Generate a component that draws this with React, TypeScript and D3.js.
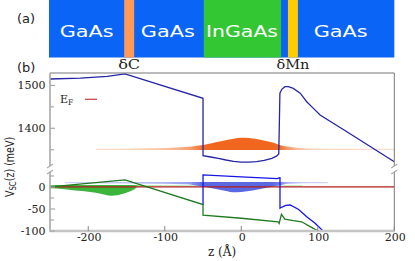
import React from "react";
import * as d3 from "d3";

// ---------- DATA ----------
// layer stripes (z in Å)
const stripeZ0 = [-153, -49, 61];
const stripeZ1 = [-140, 52, 74];
const layerLabels = ["GaAs", "GaAs", "InGaAs", "GaAs"];
const layerLabelZ = [-202, -96, 1, 130];

// conduction band (upper panel, meV)
const cbZ = [-250, -210, -175, -152, -50, -50, -40, -30, -20, -10, 0, 10, 20, 30, 40, 46, 49, 50.5, 53, 57, 61.5, 68, 77, 85.5, 94, 103, 138, 200];
const cbV = [1515, 1517, 1521, 1527, 1470, 1336, 1333, 1330, 1326, 1323, 1321, 1321, 1322, 1325, 1330, 1335, 1340, 1482, 1491, 1497, 1497, 1493, 1482, 1462, 1447, 1431, 1392, 1322];

// light-hole band (green, lower panel)
const lhZ = [-250, -152, -50, -50, 0, 48, 49.5, 52.5, 57, 68, 79, 90, 100.5, 108];
const lhV = [0, 16, -40, -64, -71, -79, -83, -62, -73, -76.5, -79, -90, -100, -106];

// heavy-hole band (blue, lower panel)
const hhZ = [-50, -50, 0, 47, 49.5, 50.6, 50.6, 54, 58, 64, 75, 85.5, 96.5, 107.5, 112];
const hhV = [-41, 27.5, 23, 19, 20.5, 21, -48, -45, -42, -41, -51, -67.5, -82.5, -101, -108];

// electron density (orange), normalized
const eDenZ = [-190, -150, -120, -100, -80, -65, -55, -50, -40, -32, -25, -10, 0, 10, 25, 40, 50, 60, 70, 77, 85, 100, 130, 160, 200];
const eDenD = [0.02, 0.04, 0.08, 0.11, 0.17, 0.24, 0.33, 0.38, 0.5, 0.62, 0.72, 0.92, 1.0, 0.97, 0.83, 0.6, 0.38, 0.24, 0.15, 0.11, 0.07, 0.05, 0.03, 0.02, 0.01];
const eBase = 1351;
const eAmp = 27;

// heavy-hole density (blue)
const hDenZ = [-230, -200, -150, -100, -75, -67, -60, -50, -40, -30, -20, -12, 0, 10, 20, 30, 40, 50, 60, 75, 90, 113];
const hDenD = [0.02, 0.04, 0.07, 0.12, 0.18, 0.2, 0.3, 0.42, 0.55, 0.72, 0.88, 1.0, 0.97, 0.88, 0.74, 0.58, 0.42, 0.31, 0.13, 0.06, 0.03, 0.01];
const hBase = 10;
const hAmp = 22;

// light-hole density (green)
const lDenZ = [-250, -235, -220, -205, -190, -178, -170, -162, -152, -145, -139, -135, -125, -100, -50, 0, 50, 80];
const lDenD = [0.25, 0.33, 0.45, 0.55, 0.72, 0.9, 1.0, 0.95, 0.76, 0.55, 0.33, 0.12, 0.05, 0.03, 0.02, 0.015, 0.01, 0.005];
const lBase = 3;
const lAmp = 22.7;

const xTicks = [-200, -100, 0, 100, 200];
const yTopTicks = [1500, 1400];
const yTopMinor = [1450, 1350];
const yBotTicks = [0, -50, -100];
const yBotMinor = [25, -25, -75];

// ---------- LAYOUT ----------
const W = 415, H = 261;
const xL = 50, xR = 394.3;
const topY0 = 73, topY1 = 166;
const botY0 = 172, botY1 = 231;

const x = d3.scaleLinear().domain([-250, 200]).range([xL, xR]);
const yTop = d3.scaleLinear().domain([1312, 1529]).range([topY1, topY0]);
const yBot = d3.scaleLinear().domain([-100, 34]).range([botY1, botY0]);

function zip(zs: number[], vs: number[]): [number, number][] {
  return zs.map((z, i) => [z, vs[i]]);
}

function Density({ id, zs, ds, base, amp, dir, yScale, tail, peak, sat }: any) {
  const pts = zip(zs, ds);
  const area = d3
    .area<[number, number]>()
    .x((p) => x(p[0]))
    .y0(() => yScale(base))
    .y1((p) => yScale(base + dir * amp * p[1]))
    .curve(d3.curveMonotoneX);
  const col = d3.interpolateRgb(tail, peak);
  const x0 = x(zs[0]);
  const x1 = x(zs[zs.length - 1]);
  return (
    <g>
      <defs>
        <linearGradient id={id} gradientUnits="userSpaceOnUse" x1={x0} x2={x1} y1={0} y2={0}>
          {zs.map((z, i) => (
            <stop key={i} offset={(x(z) - x0) / (x1 - x0)} stopColor={col(Math.min(1, ds[i] / sat))} />
          ))}
        </linearGradient>
      </defs>
      <path d={area(pts) || ""} fill={`url(#${id})`} />
      <line x1={x0} x2={x1} y1={yScale(base)} y2={yScale(base)} stroke={`url(#${id})`} strokeWidth={1.3} />
    </g>
  );
}

export default function App() {
  const lineTop = d3.line<[number, number]>().x((p) => x(p[0])).y((p) => yTop(p[1]));
  const lineBot = d3.line<[number, number]>().x((p) => x(p[0])).y((p) => yBot(p[1]));
  const axisGray = "#a8a8a8";
  const frameGray = "#777";
  const serif = "'DejaVu Serif', serif";
  const sans = "'DejaVu Sans', sans-serif";

  const brk = (cx: number) => (
    <g stroke={axisGray} strokeWidth={1.2}>
      <line x1={cx - 3} x2={cx + 3} y1={topY1 + 2} y2={topY1 - 2} />
      <line x1={cx - 3} x2={cx + 3} y1={botY0 + 2} y2={botY0 - 2} />
    </g>
  );

  return (
    <svg width={W} height={H} style={{ position: "absolute", left: 0, top: 0, background: "#fff" }}>
      <defs>
        <clipPath id="clipTop">
          <rect x={xL} y={topY0} width={xR - xL} height={topY1 - topY0} />
        </clipPath>
        <clipPath id="clipBot">
          <rect x={xL} y={botY0} width={xR - xL} height={botY1 - botY0} />
        </clipPath>
      </defs>

      {/* (a) layer structure */}
      <rect x={x(-250) - 1} y={0} width={x(200) - x(-250) + 1} height={57.5} fill="#0a64f5" />
      {stripeZ0.map((z0, i) => (
        <rect key={i} x={x(z0)} y={0} width={x(stripeZ1[i]) - x(z0)} height={57.5} fill={["#ff9955", "#33c833", "#ffcc00"][i]} />
      ))}
      {layerLabels.map((t, i) => (
        <text key={i} x={x(layerLabelZ[i])} y={36.5} textAnchor="middle" fill="#fff" fontFamily={sans} fontSize={15}
          textLength={t.length > 4 ? 72 : 54} lengthAdjust="spacingAndGlyphs">{t}</text>
      ))}
      <text x={17} y={23} fontFamily={sans} fontSize={13} fill="#222">(a)</text>
      <text x={x(-146.5)} y={69} textAnchor="middle" fontFamily={serif} fontSize={12} fill="#222" textLength={22} lengthAdjust="spacingAndGlyphs">δC</text>
      <text x={x(67.5)} y={69} textAnchor="middle" fontFamily={serif} fontSize={12} fill="#222" textLength={33} lengthAdjust="spacingAndGlyphs">δMn</text>
      <text x={17} y={72} fontFamily={sans} fontSize={13} fill="#222">(b)</text>

      {/* upper panel */}
      <g clipPath="url(#clipTop)">
        <Density id="gE" zs={eDenZ} ds={eDenD} base={eBase} amp={eAmp} dir={1} yScale={yTop} tail="#fde3d3" peak="#f0661e" sat={0.4} />
        <path d={lineTop(zip(cbZ, cbV)) || ""} fill="none" stroke="#2525a5" strokeWidth={1.3} />
      </g>

      {/* lower panel */}
      <g clipPath="url(#clipBot)">
        <Density id="gL" zs={lDenZ} ds={lDenD} base={lBase} amp={lAmp} dir={-1} yScale={yBot} tail="#cdeec6" peak="#3cb43c" sat={0.35} />
        <Density id="gH" zs={hDenZ} ds={hDenD} base={hBase} amp={hAmp} dir={-1} yScale={yBot} tail="#d2d6f8" peak="#5a68e2" sat={0.4} />
        <line x1={x(-250)} x2={x(200)} y1={yBot(0)} y2={yBot(0)} stroke="#b01c1c" strokeWidth={1.2} />
        <path d={lineBot(zip(hhZ, hhV)) || ""} fill="none" stroke="#1515e8" strokeWidth={1.3} />
        <path d={lineBot(zip(lhZ, lhV)) || ""} fill="none" stroke="#1f7a1f" strokeWidth={1.3} />
      </g>

      {/* frame */}
      <line x1={xL} x2={xR} y1={topY0} y2={topY0} stroke={frameGray} strokeWidth={1} />
      <line x1={xR} x2={xR} y1={topY0} y2={topY1} stroke={frameGray} strokeWidth={1} />
      <line x1={xR} x2={xR} y1={botY0} y2={botY1} stroke={frameGray} strokeWidth={1} />
      <line x1={xL} x2={xL} y1={topY0} y2={topY1} stroke={axisGray} strokeWidth={1.6} />
      <line x1={xL} x2={xL} y1={botY0} y2={botY1} stroke={axisGray} strokeWidth={1.6} />
      <line x1={xL - 1} x2={xR + 0.5} y1={botY1} y2={botY1} stroke="#c4c4c4" strokeWidth={2.5} />
      {brk(xL)}
      {brk(xR)}

      {/* y ticks */}
      {yTopTicks.map((v) => (
        <g key={v}>
          <line x1={xL} x2={xL + 5} y1={yTop(v)} y2={yTop(v)} stroke={axisGray} strokeWidth={1.2} />
          <text x={45.5} y={yTop(v) + 4} textAnchor="end" fontFamily={serif} fontSize={11} fill="#222">{v}</text>
        </g>
      ))}
      {yTopMinor.map((v) => (
        <line key={v} x1={xL} x2={xL + 4} y1={yTop(v)} y2={yTop(v)} stroke={axisGray} strokeWidth={1.2} />
      ))}
      {yBotTicks.map((v) => (
        <g key={v}>
          <line x1={xL} x2={xL + 5} y1={yBot(v)} y2={yBot(v)} stroke={axisGray} strokeWidth={1.2} />
          <text x={45.5} y={yBot(v) + 4} textAnchor="end" fontFamily={serif} fontSize={11} fill="#222">{v}</text>
        </g>
      ))}
      {yBotMinor.map((v) => (
        <line key={v} x1={xL} x2={xL + 4} y1={yBot(v)} y2={yBot(v)} stroke={axisGray} strokeWidth={1.2} />
      ))}

      {/* x ticks */}
      {xTicks.map((v) => (
        <g key={v}>
          <line x1={x(v)} x2={x(v)} y1={botY1} y2={botY1 - 5} stroke="#888" strokeWidth={1} />
          <text x={x(v) + 1} y={240.5} textAnchor="middle" fontFamily={serif} fontSize={11} fill="#222">{v}</text>
        </g>
      ))}
      <text x={222} y={256} textAnchor="middle" fontFamily={serif} fontSize={12} fill="#222">z (Å)</text>

      {/* y label */}
      <text transform="translate(13.5,167) rotate(-90) scale(1,1.3)" textAnchor="middle" fontFamily={sans} fontSize={9.5} fill="#222">
        V<tspan fontSize={7} dy={2}>SC</tspan><tspan dy={-2}>(z) (meV)</tspan>
      </text>

      {/* E_F legend */}
      <text x={60} y={103} fontFamily={serif} fontSize={11} fill="#222">
        E<tspan fontSize={7.5} dy={2}>F</tspan>
      </text>
      <line x1={85} x2={97} y1={99.3} y2={99.3} stroke="#d04848" strokeWidth={1.3} />
    </svg>
  );
}
